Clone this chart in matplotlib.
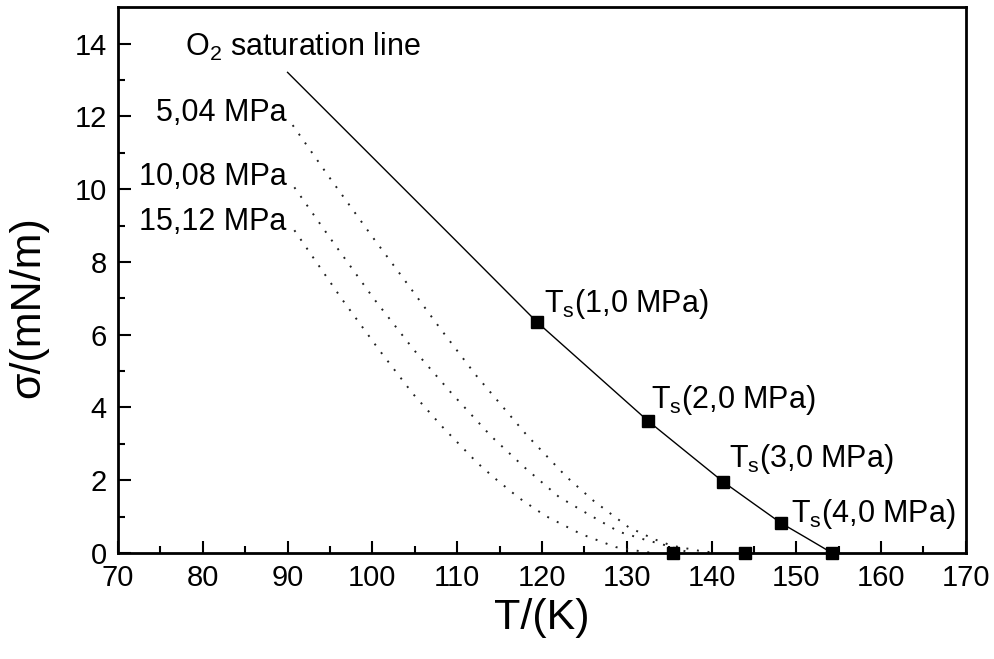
import matplotlib
matplotlib.use("Agg")
import matplotlib.pyplot as plt

plt.rcParams['font.family'] = ['Liberation Sans', 'DejaVu Sans']
plt.rcParams['mathtext.default'] = 'regular'

# O2 saturation line
sat_T = [90.0, 100, 110, 119.4, 126, 132.5, 137, 141.4, 145, 148.2, 151, 154.2]
sat_sigma = [13.21, 10.88, 8.55, 6.35, 4.98, 3.63, 2.78, 1.95, 1.35, 0.82, 0.44, 0.0]

# isobars (dotted)
p504_T = [90.6, 95, 100, 103.8, 108, 112.2, 118.2, 122.9, 126.1, 130.2, 133.2, 135.3, 138.5, 140.5]
p504_sigma = [11.76, 10.30, 8.69, 7.50, 6.17, 4.89, 3.24, 2.09, 1.43, 0.71, 0.38, 0.20, 0.06, 0.0]

p1008_T = [90.8, 95, 100.2, 104.9, 109.3, 114.0, 117.9, 122.0, 125.2, 129.1, 132.2, 135.2, 137.5]
p1008_sigma = [10.05, 8.66, 6.98, 5.58, 4.40, 3.21, 2.36, 1.54, 1.10, 0.58, 0.36, 0.17, 0.0]

p1512_T = [90.8, 96.4, 100.8, 104.8, 108.4, 112.4, 114.4, 117.3, 120.4, 124.6, 128.7, 130.6, 133.0]
p1512_sigma = [8.87, 6.98, 5.58, 4.37, 3.43, 2.47, 2.06, 1.51, 1.02, 0.52, 0.16, 0.08, 0.0]

# saturation points
ts_T = [119.4, 132.5, 141.4, 148.2]
ts_sigma = [6.35, 3.63, 1.95, 0.82]
ts_labels = ['T$_s$(1,0 MPa)', 'T$_s$(2,0 MPa)', 'T$_s$(3,0 MPa)', 'T$_s$(4,0 MPa)']

# points on the T axis
zero_T = [135.5, 143.9, 154.2]
zero_sigma = [0, 0, 0]

fig = plt.figure(figsize=(9.94, 6.59), dpi=100)
ax = fig.add_axes([0.1187, 0.161, 0.853, 0.828])

ax.plot(sat_T, sat_sigma, color='black', lw=1.0)
for T, s in [(p504_T, p504_sigma), (p1008_T, p1008_sigma), (p1512_T, p1512_sigma)]:
    ax.plot(T, s, color='#222222', lw=1.4, linestyle=(0, (1, 4.5)))

ax.plot(ts_T, ts_sigma, 's', color='black', ms=9, clip_on=False)
ax.plot(zero_T, zero_sigma, 's', color='black', ms=9, clip_on=False, zorder=5)

# labels
fs = 22
ax.text(77.9, 13.65, 'O$_2$ saturation line', fontsize=fs, va='baseline', ha='left')
ax.text(89.9, 11.87, '5,04 MPa', fontsize=fs, va='baseline', ha='right')
ax.text(89.9, 10.11, '10,08 MPa', fontsize=fs, va='baseline', ha='right')
ax.text(89.9, 8.87, '15,12 MPa', fontsize=fs, va='baseline', ha='right')
ts_pos = [(120.2, 6.62), (132.9, 3.98), (142.1, 2.36), (149.4, 0.85)]
for (x, y), lab in zip(ts_pos, ts_labels):
    ax.text(x, y, lab, fontsize=fs, va='baseline', ha='left')

ax.set_xlim(70, 170)
ax.set_ylim(0, 15)
ax.set_xticks(range(70, 171, 10))
ax.set_xticks(range(75, 170, 10), minor=True)
ax.set_yticks(range(0, 15, 2))
ax.set_yticks(range(1, 15, 2), minor=True)

ax.tick_params(which='both', direction='in', top=False, right=False, width=1.5, labelsize=21)
ax.tick_params(which='major', length=9, pad=8)
ax.tick_params(which='minor', length=5)
for sp in ax.spines.values():
    sp.set_linewidth(2)

ax.set_xlabel('T/(K)', fontsize=31, labelpad=4)
ax.set_ylabel('σ/(mN/m)', fontsize=31)
ax.yaxis.set_label_coords(-0.082, 0.45)

fig.savefig('out.png', dpi=100)
